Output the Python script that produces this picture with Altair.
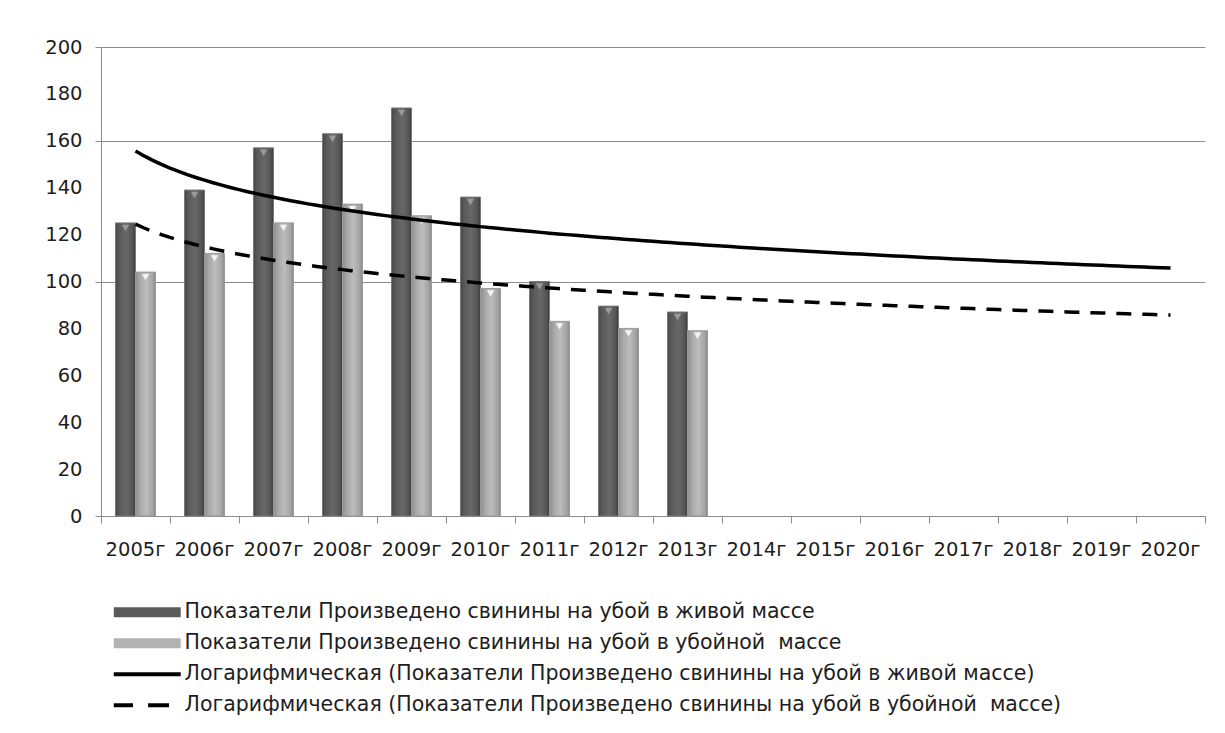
import altair as alt
import numpy as np
import pandas as pd

# ---- data ----
years = ["2005г", "2006г", "2007г", "2008г", "2009г", "2010г", "2011г", "2012г",
         "2013г", "2014г", "2015г", "2016г", "2017г", "2018г", "2019г", "2020г"]
live_values = [125, 139, 157, 163, 174, 136, 100, 89.5, 87]          # живая масса
slaughter_values = [104, 112, 125, 133, 128, 97, 83, 80, 79]          # убойная масса
y_labels = [0, 20, 40, 60, 80, 100, 120, 140, 160, 180, 200]
grid_values = [0, 100, 160, 200]

name_live = "Показатели Произведено свинины на убой в живой массе"
name_sl = "Показатели Произведено свинины на убой в убойной\u00a0 массе"
name_tr_live = "Логарифмическая (Показатели Произведено свинины на убой в живой массе)"
name_tr_sl = "Логарифмическая (Показатели Произведено свинины на убой в убойной\u00a0 массе)"
legend_labels = [name_live, name_sl, name_tr_live, name_tr_sl]
legend_colors = ["#5a5a5a", "#b2b2b2", "#000000", "#000000"]
legend_shapes = [
    "M-4,-0.6H4V0.6H-4Z",
    "M-4,-0.6H4V0.6H-4Z",
    "M-4,-0.25H4V0.25H-4Z",
    "M-4,-0.25H-1.7V0.25H-4Z M0.1,-0.25H2.6V0.25H0.1Z",
]

rows = []
for i, v in enumerate(live_values):
    rows.append({"year": years[i], "idx": i + 1, "series": "live", "value": v})
for i, v in enumerate(slaughter_values):
    rows.append({"year": years[i], "idx": i + 1, "series": "slaughter", "value": v})
df = pd.DataFrame(rows)


# logarithmic trend (least squares of value on ln(index)), extended to 2020
def log_trend(vals, key):
    lx = np.log(np.arange(1, len(vals) + 1))
    b, a = np.polyfit(lx, np.asarray(vals, dtype=float), 1)
    t = np.linspace(1, len(years), 121)
    return pd.DataFrame({"idx": t, "value": a + b * np.log(t), "series": key})


trend_df = pd.concat([log_trend(live_values, "live"), log_trend(slaughter_values, "slaughter")])

FONT = "DejaVu Sans"
TXT = "#1e1e1e"
GRID = "#8c8c8c"

x_band = alt.X(
    "year:N",
    scale=alt.Scale(domain=years, paddingInner=0.42, paddingOuter=0.21),
    axis=alt.Axis(title=None, labelAngle=0, ticks=False, domain=False, grid=False,
                  labelFontSize=19.5, labelColor=TXT, labelPadding=24, labelFont=FONT),
)
x_off = alt.XOffset("series:N", scale=alt.Scale(domain=["live", "slaughter"]))
y_main = alt.Y(
    "value:Q",
    scale=alt.Scale(domain=[0, 200], nice=False),
    axis=alt.Axis(title=None, values=y_labels, ticks=False, grid=False, domain=True,
                  domainColor=GRID, labelFontSize=19.5, labelColor=TXT, labelPadding=19,
                  labelFont=FONT),
)


def bar_pair(key, stops, tri_color, edge):
    base = alt.Chart(df).transform_filter(alt.datum.series == key)
    grad = alt.Gradient(
        gradient="linear", x1=0, x2=1, y1=0, y2=0,
        stops=[alt.GradientStop(color=c, offset=o) for o, c in stops],
    )
    bar = base.mark_bar(fill=grad, stroke=edge, strokeWidth=1).encode(
        x=x_band, xOffset=x_off, y=y_main
    )
    tri = base.mark_point(shape="triangle-down", filled=True, fill=tri_color,
                          opacity=1, size=55, yOffset=5, strokeWidth=0).encode(
        x=x_band, xOffset=x_off, y=y_main
    )
    return [bar, tri]


bars = alt.layer(
    *bar_pair("live", [(0, "#464646"), (0.2, "#5a5a5a"), (0.55, "#686868"), (0.85, "#555555"), (1, "#3c3c3c")],
              "#9a9a9a", "#7a7a7a"),
    *bar_pair("slaughter", [(0, "#8e8e8e"), (0.25, "#aaaaaa"), (0.55, "#bcbcbc"), (0.85, "#a4a4a4"), (1, "#8a8a8a")],
              "#f4f4f4", "#9a9a9a"),
)

x_num = alt.X(
    "idx:Q",
    scale=alt.Scale(domain=[0.5, 16.5], nice=False, zero=False),
    axis=alt.Axis(title=None, orient="bottom", values=[i + 0.5 for i in range(17)],
                  labels=False, ticks=True, tickSize=7, tickColor=GRID, domain=True,
                  domainColor=GRID, grid=False),
)
y_grid = alt.Y(
    "value:Q",
    scale=alt.Scale(domain=[0, 200], nice=False),
    axis=alt.Axis(title=None, orient="left", values=grid_values, labels=False, ticks=True,
                  tickSize=6, tickColor=GRID, grid=True, gridColor=GRID, domain=False),
)


def trend(key, dash):
    mark_args = dict(color="black", strokeWidth=3.5)
    if dash:
        mark_args["strokeDash"] = dash
    return (
        alt.Chart(trend_df)
        .transform_filter(alt.datum.series == key)
        .mark_line(**mark_args)
        .encode(x=x_num, y=y_grid, order="idx:Q")
    )


lines = alt.layer(trend("live", None), trend("slaughter", [15, 11]))

legend_def = alt.Legend(
    title=None, orient="none", legendX=-1, legendY=555, direction="vertical",
    labelFontSize=20.5, labelColor=TXT, labelFont=FONT, labelLimit=2000,
    symbolSize=280, symbolOffset=37, labelOffset=27, symbolStrokeWidth=0,
    rowPadding=10, padding=0,
)
legend_layer = (
    alt.Chart(pd.DataFrame({"label": legend_labels}))
    .transform_filter("false")
    .mark_point(filled=True, opacity=1)
    .encode(
        color=alt.Color("label:N", scale=alt.Scale(domain=legend_labels, range=legend_colors),
                        legend=legend_def),
        shape=alt.Shape("label:N", scale=alt.Scale(domain=legend_labels, range=legend_shapes),
                        legend=legend_def),
    )
)

chart = (
    alt.layer(bars, lines, legend_layer)
    .resolve_scale(x="independent")
    .resolve_axis(x="independent", y="independent")
    .properties(
        width=1104, height=469,
        autosize=alt.AutoSizeParams(type="none"),
        padding={"left": 93, "top": 39, "right": 10, "bottom": 200},
        background="white",
    )
    .configure_view(stroke=None)
)

chart.save("out.html", embed_options={"renderer": "svg", "actions": False})
